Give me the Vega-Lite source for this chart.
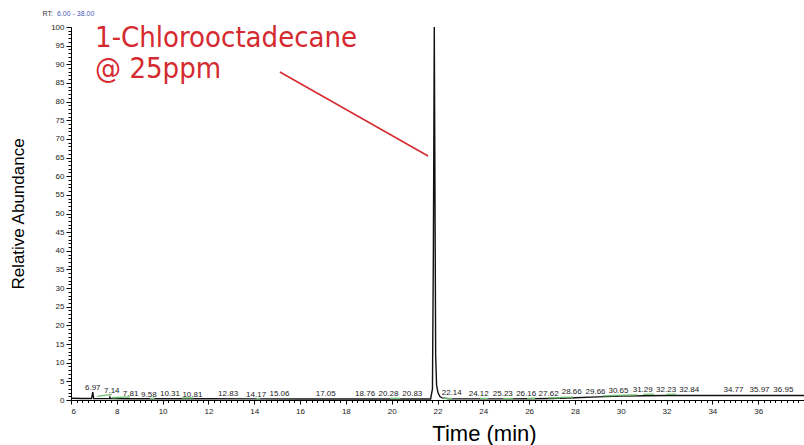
{
  "$schema": "https://vega.github.io/schema/vega-lite/v6.json",
  "width": 733,
  "height": 373,
  "autosize": {"type": "none"},
  "padding": {"left": 71, "top": 27, "right": 0, "bottom": 45},
  "background": "white",
  "config": {
    "view": {"stroke": null},
    "axis": {"labelFont": "Liberation Sans", "titleFont": "Liberation Sans", "labelColor": "#222", "domainColor": "#000", "tickColor": "#000", "grid": false, "titleFontWeight": "normal", "titleColor": "#000"}
  },
  "datasets": {
    "trace": [
      {"t": 6.0, "a": 0.45}, {"t": 6.5, "a": 0.42}, {"t": 6.9, "a": 0.4}, {"t": 6.95, "a": 2.1}, {"t": 6.99, "a": 0.4},
      {"t": 7.3, "a": 0.38}, {"t": 7.68, "a": 0.36}, {"t": 7.7, "a": 0.8}, {"t": 7.73, "a": 0.36},
      {"t": 8.5, "a": 0.35}, {"t": 10.0, "a": 0.33}, {"t": 12.0, "a": 0.32}, {"t": 14.0, "a": 0.3},
      {"t": 16.0, "a": 0.28}, {"t": 18.0, "a": 0.27}, {"t": 20.0, "a": 0.27}, {"t": 21.7, "a": 0.28},
      {"t": 21.78, "a": 3}, {"t": 21.82, "a": 40}, {"t": 21.86, "a": 100}, {"t": 21.89, "a": 55},
      {"t": 21.92, "a": 12}, {"t": 21.96, "a": 4}, {"t": 22.02, "a": 2}, {"t": 22.1, "a": 1.0},
      {"t": 22.2, "a": 0.55}, {"t": 22.5, "a": 0.35}, {"t": 23.5, "a": 0.3}, {"t": 25.0, "a": 0.3},
      {"t": 26.0, "a": 0.32}, {"t": 27.0, "a": 0.4}, {"t": 28.0, "a": 0.6}, {"t": 29.0, "a": 0.85},
      {"t": 30.0, "a": 1.05}, {"t": 31.0, "a": 1.15}, {"t": 32.0, "a": 1.2}, {"t": 34.0, "a": 1.2},
      {"t": 36.0, "a": 1.22}, {"t": 38.0, "a": 1.22}
    ],
    "segs": [
      {"x": 7.15, "y": 1.0, "x2": 7.78, "y2": 1.5},
      {"x": 7.78, "y": 0.6, "x2": 8.58, "y2": 0.85},
      {"x": 9.45, "y": 0.45, "x2": 9.65, "y2": 0.45},
      {"x": 10.83, "y": 0.55, "x2": 11.34, "y2": 0.55},
      {"x": 14.1, "y": 0.4, "x2": 14.25, "y2": 0.4},
      {"x": 19.93, "y": 0.45, "x2": 20.37, "y2": 0.45},
      {"x": 22.24, "y": 0.4, "x2": 22.64, "y2": 0.4},
      {"x": 23.86, "y": 0.4, "x2": 24.21, "y2": 0.4},
      {"x": 24.86, "y": 0.4, "x2": 25.3, "y2": 0.4},
      {"x": 25.91, "y": 0.45, "x2": 26.26, "y2": 0.45},
      {"x": 26.83, "y": 0.55, "x2": 27.35, "y2": 0.6},
      {"x": 27.35, "y": 0.7, "x2": 27.92, "y2": 0.75},
      {"x": 29.23, "y": 1.1, "x2": 29.76, "y2": 1.15},
      {"x": 29.67, "y": 1.25, "x2": 30.72, "y2": 1.35},
      {"x": 30.98, "y": 1.5, "x2": 31.46, "y2": 1.55},
      {"x": 31.98, "y": 1.5, "x2": 32.41, "y2": 1.55}
    ],
    "labels": [
      {"s": "6.97", "x": 6.95, "y": 3.3},
      {"s": "7.14", "x": 7.78, "y": 2.5},
      {"s": "7.81", "x": 8.6, "y": 1.53},
      {"s": "9.58", "x": 9.4, "y": 1.26},
      {"s": "10.31", "x": 10.32, "y": 1.53},
      {"s": "10.81", "x": 11.3, "y": 1.26},
      {"s": "12.83", "x": 12.86, "y": 1.53},
      {"s": "14.17", "x": 14.08, "y": 1.26},
      {"s": "15.06", "x": 15.1, "y": 1.53},
      {"s": "17.05", "x": 17.12, "y": 1.53},
      {"s": "18.76", "x": 18.84, "y": 1.53},
      {"s": "20.28", "x": 19.86, "y": 1.53},
      {"s": "20.83", "x": 20.9, "y": 1.53},
      {"s": "22.14", "x": 22.62, "y": 1.96},
      {"s": "24.12", "x": 23.8, "y": 1.53},
      {"s": "25.23", "x": 24.85, "y": 1.53},
      {"s": "26.16", "x": 25.87, "y": 1.53},
      {"s": "27.62", "x": 26.85, "y": 1.7},
      {"s": "28.66", "x": 27.86, "y": 2.06},
      {"s": "29.66", "x": 28.9, "y": 2.14},
      {"s": "30.65", "x": 29.9, "y": 2.33},
      {"s": "31.29", "x": 30.96, "y": 2.68},
      {"s": "32.23", "x": 31.98, "y": 2.68},
      {"s": "32.84", "x": 32.99, "y": 2.68},
      {"s": "34.77", "x": 34.92, "y": 2.68},
      {"s": "35.97", "x": 36.06, "y": 2.68},
      {"s": "36.95", "x": 37.1, "y": 2.68}
    ],
    "header": [
      {"s": "RT:", "part": "key", "x": 4.76, "y": 103.5},
      {"s": "6.00 - 38.00", "part": "range", "x": 5.39, "y": 103.5}
    ],
    "note": [
      {"s": "1-Chlorooctadecane", "x": 7.05, "y": 94.56},
      {"s": "@ 25ppm", "x": 7.05, "y": 86.2}
    ],
    "pointer": [
      {"x": 15.12, "y": 87.94, "x2": 21.59, "y2": 65.42}
    ]
  },
  "layer": [
    {
      "data": {"name": "trace"},
      "mark": {"type": "line", "color": "#111", "strokeWidth": 1.4, "clip": true},
      "encoding": {
        "x": {"field": "t", "type": "quantitative", "scale": {"domain": [6, 38], "nice": false, "zero": false},
          "axis": {"orient": "bottom", "values": [6, 8, 10, 12, 14, 16, 18, 20, 22, 24, 26, 28, 30, 32, 34, 36], "tickSize": 4, "labelFontSize": 8, "labelPadding": 3,
            "title": "Time (min)", "titleFontSize": 22, "titleX": 413, "titleY": 40, "titleAlign": "center", "titleBaseline": "alphabetic"}},
        "y": {"field": "a", "type": "quantitative", "scale": {"domain": [0, 100], "nice": false},
          "axis": {"orient": "left", "values": [0, 5, 10, 15, 20, 25, 30, 35, 40, 45, 50, 55, 60, 65, 70, 75, 80, 85, 90, 95, 100], "tickSize": 5, "labelFontSize": 8, "labelPadding": 2,
            "title": "Relative Abundance", "titleFontSize": 17, "titleX": -53, "titleY": 186.5, "titleAngle": 270, "titleAlign": "center", "titleBaseline": "middle"}}
      }
    },
    {
      "data": {"name": "segs"},
      "mark": {"type": "rule", "color": "#6cc06c", "strokeWidth": 1.3},
      "encoding": {
        "x": {"field": "x", "type": "quantitative",
          "axis": {"orient": "bottom", "values": [6,6.25,6.5,6.75,7,7.25,7.5,7.75,8,8.25,8.5,8.75,9,9.25,9.5,9.75,10,10.25,10.5,10.75,11,11.25,11.5,11.75,12,12.25,12.5,12.75,13,13.25,13.5,13.75,14,14.25,14.5,14.75,15,15.25,15.5,15.75,16,16.25,16.5,16.75,17,17.25,17.5,17.75,18,18.25,18.5,18.75,19,19.25,19.5,19.75,20,20.25,20.5,20.75,21,21.25,21.5,21.75,22,22.25,22.5,22.75,23,23.25,23.5,23.75,24,24.25,24.5,24.75,25,25.25,25.5,25.75,26,26.25,26.5,26.75,27,27.25,27.5,27.75,28,28.25,28.5,28.75,29,29.25,29.5,29.75,30,30.25,30.5,30.75,31,31.25,31.5,31.75,32,32.25,32.5,32.75,33,33.25,33.5,33.75,34,34.25,34.5,34.75,35,35.25,35.5,35.75,36,36.25,36.5,36.75,37,37.25,37.5,37.75],
            "labels": false, "domain": false, "tickSize": 2.5, "title": null}},
        "x2": {"field": "x2"},
        "y": {"field": "y", "type": "quantitative",
          "axis": {"orient": "left", "tickCount": 100, "labels": false, "domain": false, "tickSize": 3, "title": null}},
        "y2": {"field": "y2"}
      }
    },
    {
      "data": {"name": "labels"},
      "mark": {"type": "text", "font": "Liberation Sans", "fontSize": 8, "color": "#222", "align": "center", "baseline": "middle"},
      "encoding": {
        "x": {"field": "x", "type": "quantitative", "axis": null},
        "y": {"field": "y", "type": "quantitative", "axis": null},
        "text": {"field": "s"}
      }
    },
    {
      "data": {"name": "header"},
      "mark": {"type": "text", "font": "Liberation Sans", "fontSize": 7, "align": "left", "baseline": "middle"},
      "encoding": {
        "x": {"field": "x", "type": "quantitative", "axis": null},
        "y": {"field": "y", "type": "quantitative", "axis": null},
        "text": {"field": "s"},
        "color": {"field": "part", "type": "nominal", "scale": {"domain": ["key", "range"], "range": ["#333333", "#4a5ab8"]}, "legend": null}
      }
    },
    {
      "data": {"name": "note"},
      "mark": {"type": "text", "font": "DejaVu Sans Condensed, Liberation Sans", "fontSize": 29, "color": "#d42a30", "align": "left", "baseline": "alphabetic"},
      "encoding": {
        "x": {"field": "x", "type": "quantitative", "axis": null},
        "y": {"field": "y", "type": "quantitative", "axis": null},
        "text": {"field": "s"}
      }
    },
    {
      "data": {"name": "pointer"},
      "mark": {"type": "rule", "color": "#d42a30", "strokeWidth": 1.5},
      "encoding": {
        "x": {"field": "x", "type": "quantitative", "axis": null},
        "y": {"field": "y", "type": "quantitative", "axis": null},
        "x2": {"field": "x2"},
        "y2": {"field": "y2"}
      }
    }
  ],
  "resolve": {"axis": {"x": "independent", "y": "independent"}}
}
